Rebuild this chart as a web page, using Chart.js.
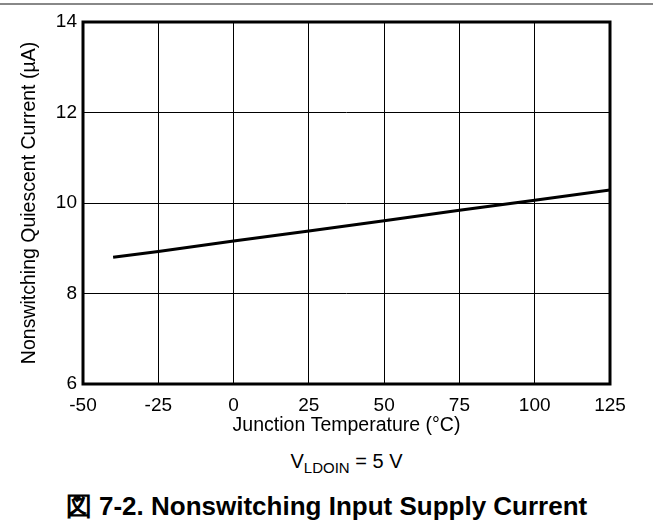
<!DOCTYPE html>
<html>
<head>
<meta charset="utf-8">
<script src="https://cdn.jsdelivr.net/npm/chart.js@4"></script>
<style>
	body { margin: 0; background: #fff; }
	#wrap { position: relative; width: 653px; height: 529px; font-family: 'Liberation Sans', Arial, sans-serif; color: #000; }
	#topline { position: absolute; left: 0; top: 3px; width: 653px; height: 2px; background: #888; }
	#chartBox { position: absolute; left: 0; top: 0; width: 653px; height: 440px; }
	#cond { position: absolute; left: 83px; width: 527px; top: 449px; line-height: 24px; text-align: center; font-size: 20px; }
	#cond sub { font-size: 15px; vertical-align: -5px; line-height: 0; }
	#caption { position: absolute; left: 0; width: 653px; top: 491px; line-height: 30px; text-align: center; font-size: 26px; font-weight: bold; }
</style>
</head>
<body>
<div id="wrap">
	<div id="topline"></div>
	<div id="chartBox"><canvas id="myChart" width="653" height="440"></canvas></div>
	<div id="cond">V<sub>LDOIN</sub> = 5 V</div>
	<div id="caption">図 7-2. Nonswitching Input Supply Current</div>
</div>
<script>
// junction temperature (°C) and supply current (µA)
const temps = [-40, -25, 0, 25, 50, 75, 100, 125];
const current = [8.8, 8.93, 9.16, 9.38, 9.61, 9.84, 10.06, 10.29];
const xTicks = [-50, -25, 0, 25, 50, 75, 100, 125];
const yTicks = [6, 8, 10, 12, 14];

const font = 'Liberation Sans, Arial, sans-serif';

// thick frame round the plot area
const frame = {
	id: 'frame',
	afterDraw(chart) {
		const a = chart.chartArea;
		const ctx = chart.ctx;
		ctx.save();
		ctx.strokeStyle = '#000';
		ctx.lineWidth = 3;
		ctx.strokeRect(a.left, a.top, a.right - a.left, a.bottom - a.top);
		ctx.restore();
	},
};

const points = [];
for (let i = 0; i < temps.length; i++) {
	points.push({ x: temps[i], y: current[i] });
}

const data = {
	datasets: [
		{
			data: points,
			borderColor: '#000',
			borderWidth: 3,
			pointRadius: 0,
			tension: 0,
		},
	],
};

const config = {
	type: 'line',
	data: data,
	options: {
		responsive: false,
		animation: false,
		layout: { padding: { top: 22, right: 43, left: 0, bottom: 0 } },
		plugins: { legend: { display: false }, tooltip: { enabled: false } },
		scales: {
			x: {
				type: 'linear',
				min: xTicks[0],
				max: xTicks[xTicks.length - 1],
				afterBuildTicks: (s) => { s.ticks = xTicks.map((v) => ({ value: v })); },
				afterFit: (s) => { s.height = 56; },
				ticks: { color: '#000', font: { family: font, size: 19 }, padding: 10, maxRotation: 0 },
				grid: { color: '#000', lineWidth: 1, drawTicks: false },
				border: { display: false },
				title: {
					display: true,
					text: 'Junction Temperature (°C)',
					color: '#000',
					font: { family: font, size: 19.5 },
					padding: { top: 0, bottom: 3 },
				},
			},
			y: {
				min: yTicks[0],
				max: yTicks[yTicks.length - 1],
				afterBuildTicks: (s) => { s.ticks = yTicks.map((v) => ({ value: v })); },
				afterFit: (s) => { s.width = 83; },
				ticks: { color: '#000', font: { family: font, size: 19 }, padding: 6 },
				grid: { color: '#000', lineWidth: 1, drawTicks: false },
				border: { display: false },
				title: {
					display: true,
					text: 'Nonswitching Quiescent Current (µA)',
					color: '#000',
					font: { family: font, size: 19.5 },
					padding: { top: 18, bottom: 0 },
				},
			},
		},
	},
	plugins: [frame],
};

const myChart = new Chart(document.getElementById('myChart'), config);
</script>
</body>
</html>
